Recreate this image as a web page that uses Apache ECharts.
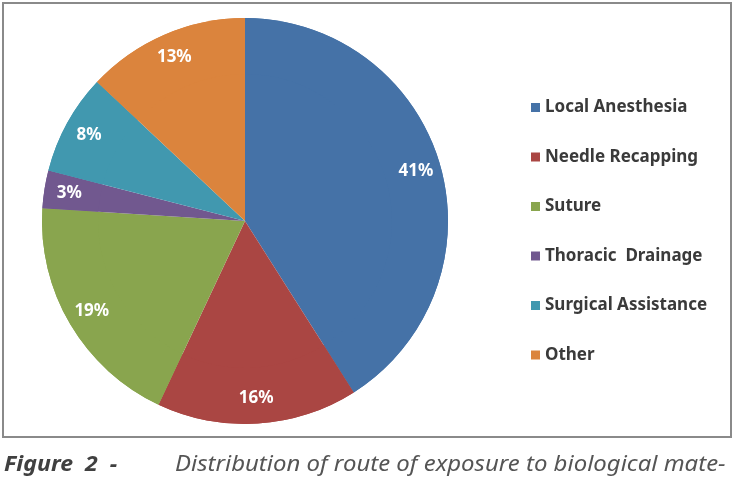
<!DOCTYPE html>
<html><head><meta charset="utf-8">
<script src="https://cdn.jsdelivr.net/npm/echarts@6/dist/echarts.min.js"></script>
<style>html,body{margin:0;padding:0;background:#fff}#c{width:735px;height:478px}</style>
</head><body><div id="c"></div>
<script>
var categories = ["Local Anesthesia","Needle Recapping","Suture","Thoracic  Drainage","Surgical Assistance","Other"];
var values = [41,16,19,3,8,13];
var colors = ["#4572A7","#AA4643","#89A54E","#71588F","#4198AF","#DB843D"];
var captionBold = "Figure  2  -";
var captionText = "Distribution of route of exposure to biological mate-";

var data = categories.map(function(c,i){return {name:c,value:values[i],itemStyle:{color:colors[i]}};});
var chart = echarts.init(document.getElementById('c'));
chart.setOption({
  animation:false,
  legend:{
    orient:'vertical', left:526, top:94, itemWidth:9, itemHeight:9, itemGap:32.5,
    icon:'rect', data:categories,
    textStyle:{fontFamily:'Noto Sans', fontSize:17, fontWeight:'bold', color:'#3a3a3a'}
  },
  graphic:[
    {type:'rect', shape:{x:3,y:3,width:728,height:434}, style:{fill:'none', stroke:'#8a8a8a', lineWidth:2}, z:-1},
    {type:'text', x:4, y:465, scaleX:1.1, style:{text:captionBold, font:'italic bold 21px "Noto Sans"', fill:'#404040', verticalAlign:'middle'}},
    {type:'text', x:175, y:465, scaleX:1.14, style:{text:captionText, font:'italic 21px "Noto Sans"', fill:'#555', verticalAlign:'middle'}}
  ],
  series:[
    {type:'pie', center:[245,221], radius:[0,203], startAngle:90, clockwise:true, data:data,
     label:{show:false}, labelLine:{show:false}, silent:true},
    {type:'pie', center:[245,221], radius:[147,203], startAngle:90, clockwise:true, data:data,
     itemStyle:{color:'transparent'}, silent:true, labelLine:{show:false},
     label:{show:true, position:'inside', formatter:'{c}%', color:'#fff', fontFamily:'Noto Sans', fontWeight:'bold', fontSize:17},
     legendHoverLink:false}
  ]
});
</script></body></html>
